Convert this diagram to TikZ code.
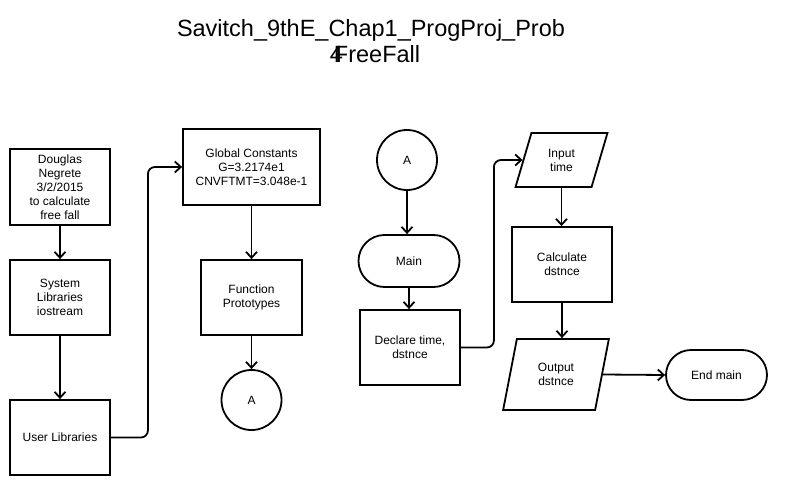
\documentclass[tikz,border=0pt]{standalone}
\usepackage{fontspec}
\setmainfont{Liberation Sans}
\usetikzlibrary{arrows.meta,shapes.geometric,shapes.misc}
\begin{document}
\begin{tikzpicture}[x=1pt,y=-1pt,
  every node/.style={font=\fontsize{12}{14}\selectfont, align=center, inner sep=0pt},
  box/.style={draw, line width=1.8pt, rectangle},
  term/.style={draw, line width=1.8pt, rounded rectangle},
  circ/.style={draw, line width=1.8pt, circle, minimum size=60pt},
  para/.style={draw, line width=1.8pt, trapezium, trapezium stretches=true},
  conn/.style={line width=1.8pt, -{Straight Barb[length=6pt,width=11pt,line width=1.8pt]}, rounded corners=7pt},
  titletext/.style={font=\fontsize{23.5}{28}\selectfont, anchor=base}]
\useasboundingbox[fill=white] (0,0) rectangle (793,495);
% title
\node[titletext] (t1) at (371,37) {Savitch\_9thE\_Chap1\_ProgProj\_Prob};
\node[titletext] (t2) at (375,63) {4\kern-9pt FreeFall};
% left column
\node[box, minimum width=100pt, minimum height=76pt] (dn) at (60,187) {Douglas\\Negrete\\3/2/2015\\to calculate\\free fall};
\node[box, minimum width=100pt, minimum height=75pt] (sys) at (60,297.5) {System\\Libraries\\iostream};
\node[box, minimum width=100pt, minimum height=75pt] (usr) at (60,437.5) {User Libraries};
% second column
\node[box, minimum width=137pt, minimum height=76pt] (glob) at (251.5,167) {Global Constants\\G=3.2174e1\\CNVFTMT=3.048e-1};
\node[box, minimum width=101pt, minimum height=75pt] (func) at (251.5,297.5) {Function\\Prototypes};
\node[circ] (a1) at (251.5,400) {A};
% third column
\node[circ] (a2) at (407,160) {A};
\node[term, minimum width=101pt, minimum height=52pt] (main) at (409,261) {Main};
\node[box, minimum width=100pt, minimum height=75pt] (decl) at (410,347.5) {Declare time,\\dstnce};
% fourth column
\node[para, trapezium left angle=72.5, trapezium right angle=107.5, minimum width=92pt, minimum height=54pt] (inp) at (561.5,160) {Input\\time};
\node[box, minimum width=100pt, minimum height=75pt] (calc) at (562,264.5) {Calculate\\dstnce};
\node[para, trapezium left angle=74.3, trapezium right angle=105.7, minimum width=106pt, minimum height=71pt] (outp) at (556,374.5) {Output\\dstnce};
\node[term, minimum width=101pt, minimum height=50pt] (endm) at (716.5,375) {End main};
% connectors
\draw[conn] (dn.south) -- (sys.north);
\draw[conn] (sys.south) -- (usr.north);
\draw[conn] (usr.east) -- ++(37,0) |- (glob.west);
\draw[conn] (glob.south) -- (func.north);
\draw[conn] (func.south) -- (a1.north);
\draw[conn] (a2.south) -- (a2.south |- main.north);
\draw[conn] (main.south) -- (main.south |- decl.north);
\draw[conn] (decl.east) -- ++(33,0) |- (inp.left side);
\draw[conn] (inp.south) -- (inp.south |- calc.north);
\draw[conn] (calc.south) -- (calc.south |- outp.north);
\draw[conn] (outp.right side) -- (endm.west);
\end{tikzpicture}
\end{document}
